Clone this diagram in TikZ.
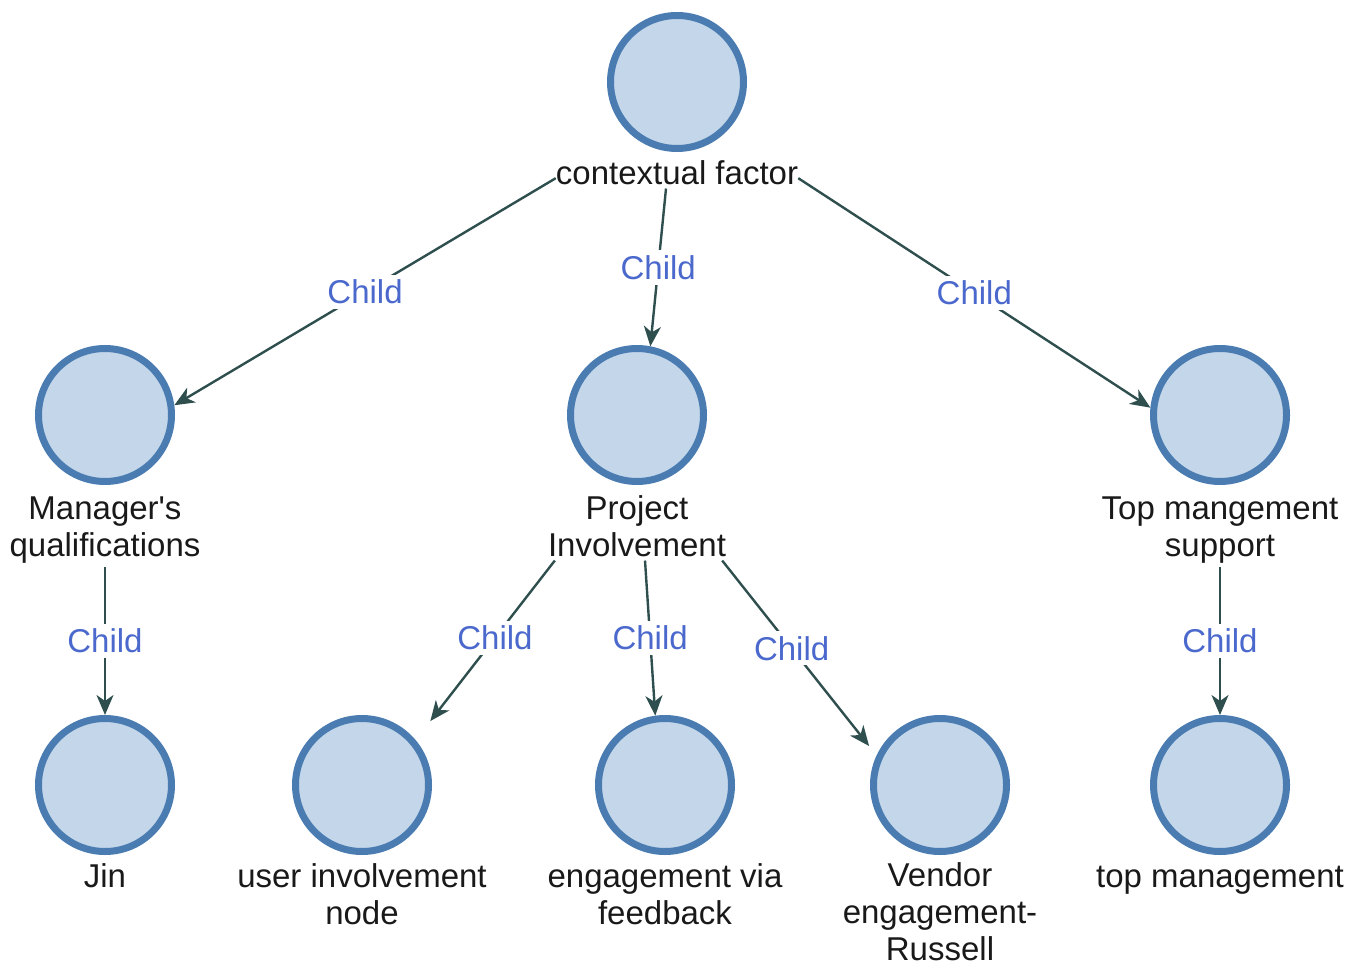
\documentclass[tikz,border=0pt]{standalone}
\usepackage{fontspec}
\setmainfont{Liberation Sans}
\usetikzlibrary{arrows.meta,calc}
\definecolor{circfill}{RGB}{196,214,233}
\definecolor{circline}{RGB}{74,124,178}
\definecolor{edgecol}{RGB}{47,79,79}
\definecolor{lblcol}{RGB}{75,105,205}
\definecolor{txtcol}{RGB}{25,25,25}
\begin{document}
\begin{tikzpicture}[x=1pt,y=-1pt,
  circ/.style={circle,draw=circline,fill=circfill,line width=7pt,minimum size=133pt,inner sep=0pt},
  lbl/.style={anchor=base,align=center,inner sep=0pt,text=txtcol,font=\fontsize{33}{37}\selectfont},
  edge/.style={draw=edgecol,line width=2.4pt,-{Stealth[length=20pt,width=17pt,inset=6pt]}},
  elbl/.style={midway,fill=white,inner sep=5pt,text=lblcol,font=\fontsize{33}{37}\selectfont}]
\useasboundingbox (0,0) rectangle (1362,965);
% circles
\node[circ] (c0) at (677,82) {};
\node[circ] (c1) at (105,415) {};
\node[circ] (c2) at (637,415) {};
\node[circ] (c3) at (1220,415) {};
\node[circ] (c4) at (105,785) {};
\node[circ] (c5) at (362,785) {};
\node[circ] (c6) at (665,785) {};
\node[circ] (c7) at (940,785) {};
\node[circ] (c8) at (1220,785) {};
% labels (anchor=base refers to the last line)
\node[lbl] (t0) at (677,185) {contextual factor};
\node[lbl] (t1) at (105,556) {Manager\textquotesingle s\\qualifications};
\node[lbl] (t2) at (637,556) {Project\\Involvement};
\node[lbl] (t3) at (1220,556) {Top mangement\\support};
\node[lbl] (t4) at (105,887) {Jin};
\node[lbl] (t5) at (362,924) {user involvement\\node};
\node[lbl] (t6) at (665,924) {engagement via\\feedback};
\node[lbl] (t7) at (940,960) {Vendor\\engagement-\\Russell};
\node[lbl] (t8) at (1220,887) {top management};
% edges
\draw[edge] ($(t0.west)+(0,5)$) -- node[elbl] {Child} (c1.8);
\draw[edge] ($(t0.south)+(-11,3)$) -- node[elbl] {Child} (c2.79);
\draw[edge] ($(t0.east)+(0,5)$) -- node[elbl] {Child} (c3.174);
\draw[edge] ($(t1.south)+(0,4)$) -- node[elbl] {Child} (c4);
\draw[edge,shorten >=24pt] ($(t2.south west)+(7,4)$) -- node[elbl,pos=0.43] {Child} (c5.40);
\draw[edge] ($(t2.south)+(8,4)$) -- node[elbl] {Child} (c6.98);
\draw[edge,shorten >=12pt] ($(t2.south east)+(-4,4)$) -- node[elbl,pos=0.45] {Child} (c7.155);
\draw[edge] ($(t3.south)+(0,4)$) -- node[elbl] {Child} (c8);
\end{tikzpicture}
\end{document}
